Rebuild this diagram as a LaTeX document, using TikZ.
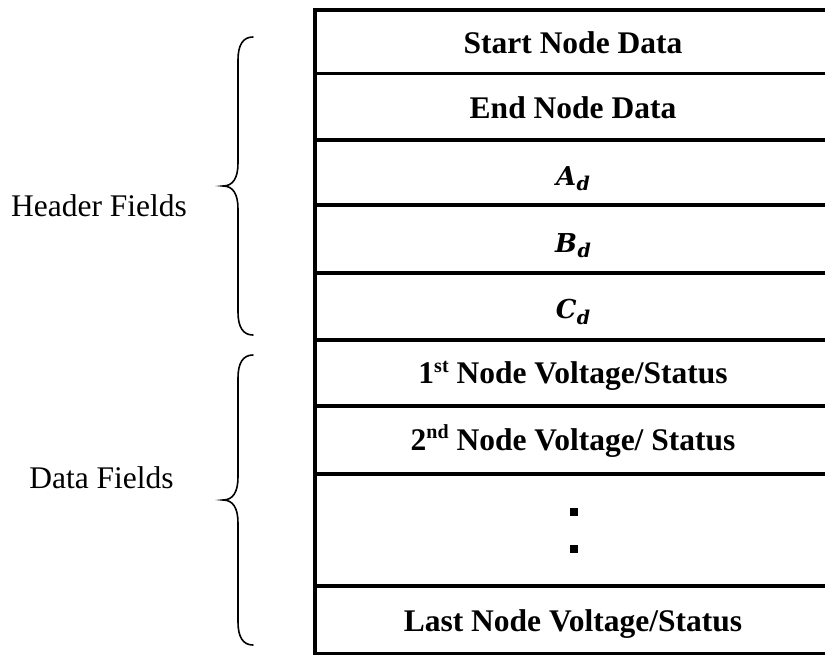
\documentclass[tikz,border=0pt]{standalone}
\usepackage{fontspec}
\setmainfont{Liberation Serif}
\newfontfamily\mathfam{DejaVu Serif}
\tikzset{
  cell/.style={anchor=base, inner sep=0pt, font=\bfseries\fontsize{31.5}{36}\selectfont},
  mathcell/.style={anchor=base, inner sep=0pt, font=\mathfam\bfseries\itshape\fontsize{26}{30}\selectfont},
  side/.style={anchor=base, inner sep=0pt, font=\fontsize{31.5}{36}\selectfont},
  grid/.style={line width=3.5pt},
  border/.style={line width=4pt},
  brace/.style={line width=1.6pt, line cap=round},
  dotsq/.style={fill=black, minimum size=8pt, inner sep=0pt}
}
\newcommand{\supx}[1]{\raisebox{0.36em}{\fontsize{20}{20}\selectfont #1}}
\newcommand{\subd}{\kern0.5pt\raisebox{-5.5pt}{\fontsize{19}{19}\selectfont d}}
\begin{document}
\begin{tikzpicture}[x=1pt,y=-1pt]
\useasboundingbox (0,0) rectangle (825,654);
% grid lines
\foreach \yy in {10,73.5,140,205,273,340,406,474,586,653.5}
  \draw[grid] (313,\yy) -- (825,\yy);
\draw[border] (315,8.25) -- (315,654);
% cells
\node[cell] (r1) at (573,53) {Start Node Data};
\node[cell] (r2) at (573,118) {End Node Data};
\node[mathcell] (r3) at (573,185) {A\subd};
\node[mathcell] (r4) at (573,252) {B\subd};
\node[mathcell] (r5) at (573,318.5) {C\subd};
\node[cell] (r6) at (573,383.5) {1\supx{st} Node Voltage/Status};
\node[cell] (r7) at (573,450) {2\supx{nd} Node Voltage/ Status};
\node[dotsq] (d1) at (574,512) {};
\node[dotsq] (d2) at (574,549) {};
\node[cell] (r9) at (573,631.5) {Last Node Voltage/Status};
% side labels
\node[side] (hf) at (99,216.5) {Header Fields};
\node[side] (df) at (101.5,488) {Data Fields};
% braces
\draw[brace] (253,37) .. controls (243,37) and (238,45) .. (238,60) -- (238,163)
  .. controls (238,178) and (233,186) .. (223,186)
  .. controls (233,186) and (238,194) .. (238,209) -- (238,312)
  .. controls (238,327) and (243,335) .. (253,335);
\draw[brace] (253,355) .. controls (243,355) and (238,363) .. (238,378) -- (238,477)
  .. controls (238,492) and (233,500) .. (223,500)
  .. controls (233,500) and (238,508) .. (238,523) -- (238,622)
  .. controls (238,637) and (243,645) .. (253,645);
\end{tikzpicture}
\end{document}
